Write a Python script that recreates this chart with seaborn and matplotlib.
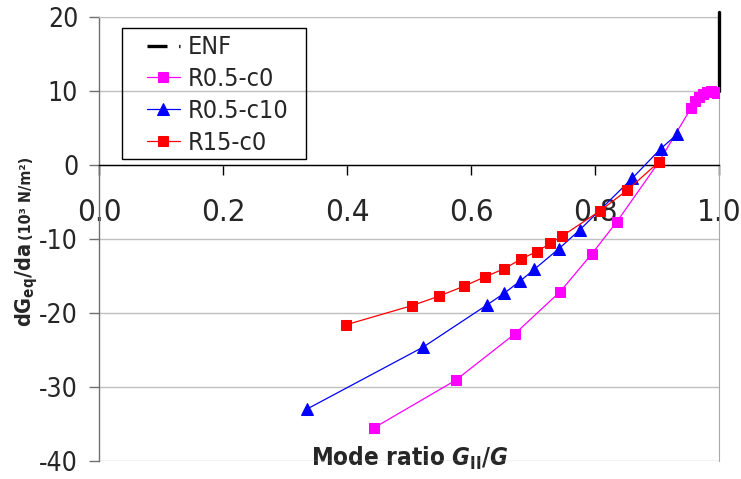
import matplotlib
matplotlib.use("Agg")
import matplotlib.pyplot as plt
import seaborn as sns
from matplotlib.patches import Rectangle

# ---------------- data ----------------
enf_x = [1.0, 1.0]
enf_y = [10.0, 20.7]

r05c0_x = [0.444, 0.575, 0.671, 0.744, 0.795, 0.835, 0.903, 0.955, 0.961,
           0.968, 0.974, 0.981, 0.987, 0.992, 0.996]
r05c0_y = [-35.5, -29.1, -22.8, -17.1, -12.0, -7.7, 0.4, 7.7, 8.6,
           9.2, 9.6, 9.9, 10.0, 9.9, 9.7]

r05c10_x = [0.335, 0.523, 0.626, 0.654, 0.679, 0.702, 0.742, 0.775,
            0.860, 0.906, 0.933]
r05c10_y = [-33.0, -24.6, -18.9, -17.3, -15.7, -14.1, -11.3, -8.8,
            -1.8, 2.2, 4.2]

r15c0_x = [0.398, 0.505, 0.549, 0.588, 0.623, 0.654, 0.681, 0.706,
           0.728, 0.747, 0.808, 0.852, 0.903]
r15c0_y = [-21.6, -19.0, -17.7, -16.4, -15.1, -14.0, -12.7, -11.7,
           -10.6, -9.6, -6.2, -3.4, 0.4]

series_names = ["ENF", "R0.5-c0", "R0.5-c10", "R15-c0"]
x_ticks = [0.0, 0.2, 0.4, 0.6, 0.8, 1.0]
x_tick_labels = ["0.0", "0.2", "0.4", "0.6", "0.8", "1.0"]
y_ticks = [-40, -30, -20, -10, 0, 10, 20]
y_tick_labels = ["-40", "-30", "-20", "-10", "0", "10", "20"]

# ---------------- style ----------------
sns.set_style("white")
plt.rcParams["font.family"] = ["DejaVu Sans"]
plt.rcParams["font.stretch"] = "condensed"
plt.rcParams["axes.unicode_minus"] = False
plt.rcParams["mathtext.fontset"] = "custom"
plt.rcParams["mathtext.rm"] = "DejaVu Sans:bold"
plt.rcParams["mathtext.bf"] = "DejaVu Sans:bold"
plt.rcParams["mathtext.it"] = "DejaVu Sans:italic:bold"

W, H = 741, 479
fig = plt.figure(figsize=(W / 100, H / 100), dpi=100)
ax = fig.add_axes([99 / W, 1 - 461 / H, 620 / W, 444 / H])

# ---------------- series ----------------
sns.lineplot(x=enf_x, y=enf_y, ax=ax, color="black", lw=2.4,
             estimator=None, sort=False, label=series_names[0],
             clip_on=False, zorder=3)
sns.lineplot(x=r05c0_x, y=r05c0_y, ax=ax, color="#FF00FF", lw=0.9,
             marker="s", markersize=7, markeredgecolor="#FF00FF",
             estimator=None, sort=False, label=series_names[1], zorder=4)
sns.lineplot(x=r05c10_x, y=r05c10_y, ax=ax, color="#0000FF", lw=0.9,
             marker="^", markersize=8, markeredgecolor="#0000FF",
             estimator=None, sort=False, label=series_names[2], zorder=5)
sns.lineplot(x=r15c0_x, y=r15c0_y, ax=ax, color="#FF0000", lw=0.9,
             marker="s", markersize=7, markeredgecolor="#FF0000",
             estimator=None, sort=False, label=series_names[3], zorder=6)

# ---------------- axes ----------------
ax.set_xlim(0, 1.0)
ax.set_ylim(-40, 20)
ax.set_xticks(x_ticks)
ax.set_xticklabels(x_tick_labels)
ax.set_yticks(y_ticks)
ax.set_yticklabels(y_tick_labels)

ax.yaxis.grid(True, color="#C0C0C0", lw=1)
ax.xaxis.grid(False)
ax.set_axisbelow(True)

ax.spines["bottom"].set_position(("data", 0))
ax.spines["bottom"].set_color("black")
ax.spines["bottom"].set_linewidth(1)
ax.spines["left"].set_color("#707070")
ax.spines["left"].set_linewidth(1)
ax.spines["top"].set_color("#C0C0C0")
ax.spines["right"].set_color("#A8A8A8")

ax.tick_params(axis="x", direction="out", length=7, width=1, color="black",
               pad=17, labelsize=22.5, bottom=True)
ax.tick_params(axis="y", direction="out", length=7, width=1, color="#707070",
               pad=8, labelsize=19, left=True)

ax.set_xlabel(r"Mode ratio $\mathit{G}_{\mathrm{II}}/\mathit{G}$",
              fontsize=17.5, fontweight="bold")
ax.xaxis.set_label_coords(0.5016, 0.036)
ax.set_ylabel("")

# y label: two parts, rotated
fig.text(31 / W, 1 - 327 / H, r"$\mathrm{dG_{eq}/da}$", rotation=90,
         rotation_mode="anchor", ha="left", va="baseline", fontsize=15.5)
fig.text(31 / W, 1 - 240 / H, "(10³ N/m²)", rotation=90,
         rotation_mode="anchor", ha="left", va="baseline", fontsize=11.5,
         fontweight="bold")

# ---------------- legend ----------------
handles, labels = ax.get_legend_handles_labels()
leg = ax.legend(handles, labels, loc="center left",
                bbox_to_anchor=(147 / W, 1 - 95 / H),
                bbox_transform=fig.transFigure, frameon=False, borderpad=0,
                borderaxespad=0, handlelength=1.3, handletextpad=0.35,
                labelspacing=0.31, fontsize=18)
leg.get_lines()[0].set_linestyle((0, (6, 3.5, 1, 3.5)))
fig.patches.append(Rectangle((122 / W, 1 - 159 / H), (306 - 122) / W,
                             (159 - 28) / H, transform=fig.transFigure,
                             facecolor="none", edgecolor="black", lw=1,
                             zorder=10))

fig.savefig("out.png", dpi=100)
